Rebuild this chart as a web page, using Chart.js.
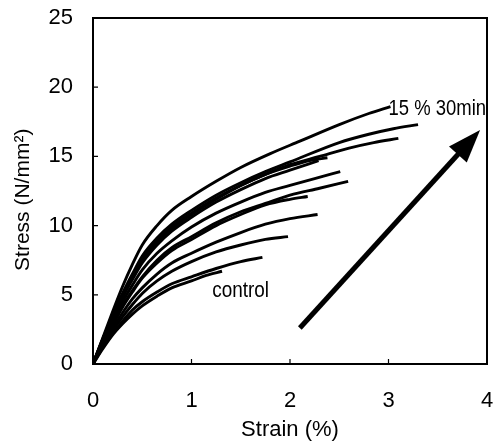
<!DOCTYPE html>
<html><head><meta charset="utf-8">
<script src="https://cdn.jsdelivr.net/npm/chart.js@4/dist/chart.umd.min.js"></script>
<style>html,body{margin:0;padding:0;background:#fff}#wrap{width:496px;height:443px}</style>
</head><body><div id="wrap"><canvas id="c" width="496" height="443"></canvas></div>
<script>
// Tick labels
const xTicks = [0, 1, 2, 3, 4];
const yTicks = [0, 5, 10, 15, 20, 25];

// Stress-strain curves: [strain %, stress N/mm2] (top to bottom)
const curveA = [[0,0],[0.1,1.9],[0.2,3.8],[0.3,5.6],[0.4,7.2],[0.5,8.6],[0.65,10.0],[0.8,11.1],[1.0,12.1],[1.25,13.2],[1.5,14.2],[1.8,15.2],[2.1,16.1],[2.5,17.3],[2.8,18.1],[3.02,18.6]];
const curveB = [[0,0],[0.1,1.8],[0.2,3.5],[0.3,5.1],[0.4,6.5],[0.5,7.8],[0.65,9.1],[0.8,10.1],[1.0,11.1],[1.25,12.2],[1.5,13.1],[1.75,13.9],[2.0,14.6],[2.5,16.0],[2.8,16.6],[3.05,17.0],[3.3,17.3]];
const curveC = [[0,0],[0.1,1.8],[0.2,3.5],[0.3,5.0],[0.4,6.4],[0.5,7.6],[0.65,8.9],[0.8,9.9],[1.0,10.9],[1.25,12.0],[1.5,12.9],[1.75,13.7],[2.0,14.4],[2.3,15.0],[2.6,15.6],[2.85,16.0],[3.1,16.3]];
const curveD = [[0,0],[0.1,1.8],[0.2,3.4],[0.3,5.0],[0.4,6.3],[0.5,7.5],[0.65,8.8],[0.8,9.8],[1.0,10.8],[1.25,11.9],[1.5,12.9],[1.75,13.7],[2.0,14.3],[2.2,14.7],[2.38,14.9]];
const curveE = [[0,0],[0.1,1.7],[0.2,3.3],[0.3,4.8],[0.4,6.1],[0.5,7.3],[0.65,8.6],[0.8,9.6],[1.0,10.6],[1.25,11.7],[1.5,12.6],[1.75,13.4],[2.0,14.0],[2.29,14.7]];
const curveF = [[0,0],[0.1,1.6],[0.2,3.1],[0.3,4.5],[0.4,5.7],[0.5,6.8],[0.65,8.0],[0.8,8.9],[1.0,9.9],[1.25,10.9],[1.5,11.7],[1.75,12.4],[2.0,12.9],[2.25,13.4],[2.51,13.9]];
const curveG = [[0,0],[0.1,1.5],[0.2,2.9],[0.3,4.2],[0.4,5.3],[0.5,6.3],[0.65,7.5],[0.8,8.4],[1.0,9.2],[1.25,10.2],[1.5,11.0],[1.75,11.6],[2.0,12.2],[2.3,12.7],[2.59,13.2]];
const curveH = [[0,0],[0.1,1.5],[0.2,2.8],[0.3,4.1],[0.4,5.2],[0.5,6.2],[0.65,7.3],[0.8,8.2],[1.0,9.0],[1.25,10.0],[1.5,10.8],[1.75,11.5],[2.0,11.9],[2.18,12.1]];
const curveI = [[0,0],[0.1,1.4],[0.2,2.6],[0.3,3.7],[0.4,4.7],[0.5,5.5],[0.65,6.5],[0.8,7.3],[1.0,8.0],[1.25,8.8],[1.5,9.5],[1.75,10.1],[2.0,10.5],[2.28,10.8]];
const curveJ = [[0,0],[0.1,1.3],[0.2,2.4],[0.3,3.4],[0.4,4.3],[0.5,5.1],[0.65,6.0],[0.8,6.7],[1.0,7.4],[1.25,8.1],[1.5,8.6],[1.75,9.0],[1.98,9.2]];
const curveK = [[0,0],[0.1,1.2],[0.2,2.2],[0.3,3.1],[0.4,3.9],[0.5,4.5],[0.65,5.2],[0.8,5.8],[1.0,6.3],[1.25,6.9],[1.5,7.4],[1.72,7.7]];
const curveL = [[0,0],[0.1,1.1],[0.2,2.1],[0.3,2.9],[0.4,3.6],[0.5,4.2],[0.65,4.9],[0.8,5.5],[1.0,6.0],[1.15,6.4],[1.31,6.7]];
const curves = [curveA, curveB, curveC, curveD, curveE, curveF, curveG, curveH, curveI, curveJ, curveK, curveL];

// Annotations (data coordinates)
const arrowFrom = [2.1, 2.6];
const arrowTo = [3.93, 16.9];
const labelTop = ['15 % 30min', 3.0, 18.4];
const labelControl = ['control', 1.21, 4.85];

const FONT = "'Liberation Sans', Arial, Helvetica, sans-serif";

const decor = {
  id: 'decor',
  afterDatasetsDraw(chart) {
    const {ctx, chartArea: a, scales: {x, y}} = chart;
    ctx.save();
    ctx.strokeStyle = '#000';
    ctx.fillStyle = '#000';
    // frame
    ctx.lineWidth = 2;
    ctx.strokeRect(a.left, a.top, a.right - a.left, a.bottom - a.top);
    // inward ticks
    ctx.lineWidth = 1.2;
    ctx.beginPath();
    yTicks.forEach(v => { const py = y.getPixelForValue(v); ctx.moveTo(a.left, py); ctx.lineTo(a.left + 5, py); });
    xTicks.forEach(v => { const px = x.getPixelForValue(v); ctx.moveTo(px, a.bottom); ctx.lineTo(px, a.bottom - 5); });
    ctx.stroke();
    // arrow
    const x0 = x.getPixelForValue(arrowFrom[0]), y0 = y.getPixelForValue(arrowFrom[1]);
    const x1 = x.getPixelForValue(arrowTo[0]), y1 = y.getPixelForValue(arrowTo[1]);
    const ang = Math.atan2(y1 - y0, x1 - x0);
    const hl = 33, hw = 12;
    const bx = x1 - hl * Math.cos(ang), by = y1 - hl * Math.sin(ang);
    ctx.lineWidth = 5;
    ctx.lineCap = 'butt';
    ctx.beginPath(); ctx.moveTo(x0, y0); ctx.lineTo(bx + 2 * Math.cos(ang), by + 2 * Math.sin(ang)); ctx.stroke();
    ctx.beginPath();
    ctx.moveTo(x1, y1);
    ctx.lineTo(bx + hw * Math.sin(ang), by - hw * Math.cos(ang));
    ctx.lineTo(bx - hw * Math.sin(ang), by + hw * Math.cos(ang));
    ctx.closePath(); ctx.fill();
    // labels
    const drawLabel = (lab, size, sx, base) => {
      const px = x.getPixelForValue(lab[1]), py = y.getPixelForValue(lab[2]);
      ctx.save();
      ctx.translate(px, py);
      ctx.scale(sx, 1);
      ctx.font = size + 'px ' + FONT;
      ctx.textAlign = 'left';
      ctx.textBaseline = base;
      ctx.fillText(lab[0], 0, 0);
      ctx.restore();
    };
    drawLabel(labelTop, 22, 0.84, 'middle');
    drawLabel(labelControl, 22, 0.86, 'alphabetic');
    ctx.restore();
  }
};

new Chart(document.getElementById('c'), {
  type: 'line',
  data: {
    datasets: curves.map(c => ({
      data: c.map(p => ({x: p[0], y: p[1]})),
      borderColor: '#000',
      borderWidth: 2.9,
      pointRadius: 0,
      fill: false,
      cubicInterpolationMode: 'monotone'
    }))
  },
  options: {
    responsive: false,
    devicePixelRatio: 1,
    animation: false,
    layout: {padding: {top: 18, right: 9, left: 0, bottom: 0}},
    plugins: {legend: {display: false}, tooltip: {enabled: false}},
    scales: {
      x: {
        type: 'linear', min: 0, max: 4,
        afterBuildTicks: s => { s.ticks = xTicks.map(v => ({value: v})); },
        afterFit: s => { s.height = 79; s.paddingLeft = 0; s.paddingRight = 0; },
        grid: {display: false, drawTicks: false},
        border: {display: false},
        ticks: {color: '#000', font: {family: FONT, size: 22}, padding: 24, maxRotation: 0},
        title: {display: true, text: 'Strain (%)', color: '#000', font: {family: FONT, size: 22}, padding: {top: 0, bottom: 0}}
      },
      y: {
        type: 'linear', min: 0, max: 25,
        afterBuildTicks: s => { s.ticks = yTicks.map(v => ({value: v})); },
        afterFit: s => { s.width = 93; s.paddingTop = 0; s.paddingBottom = 0; },
        grid: {display: false, drawTicks: false},
        border: {display: false},
        ticks: {color: '#000', font: {family: FONT, size: 22}, padding: 20},
        title: {display: true, text: 'Stress (N/mm²)   ', color: '#000', font: {family: FONT, size: 21}, padding: {top: 11, bottom: 0}}
      }
    }
  },
  plugins: [decor]
});
</script>
</body></html>
